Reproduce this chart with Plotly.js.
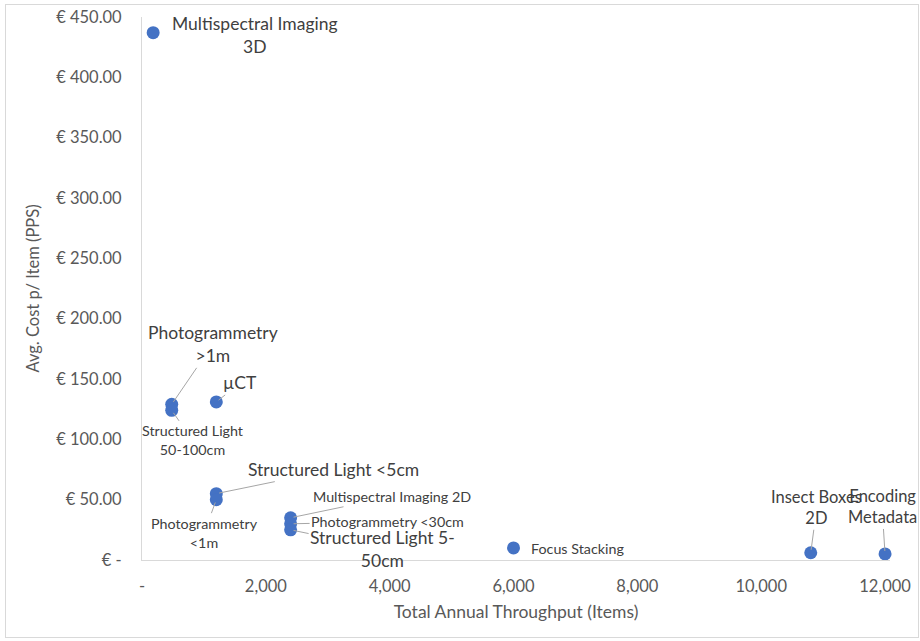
<!DOCTYPE html>
<html>
<head>
<meta charset="utf-8">
<script src="https://cdn.plot.ly/plotly-3.0.1.min.js"></script>
<style>
  html, body { margin: 0; padding: 0; background: #fff; }
  #chart { width: 920px; height: 641px; }
  #frame { position: absolute; left: 5px; top: 4px; width: 912px; height: 632px; border: 1px solid #d9d9d9; pointer-events: none; }
</style>
</head>
<body>
<div id="chart"></div>
<div id="frame"></div>
<script>
// ---- data ----
const labels = [
  "Multispectral Imaging<br>3D",
  "Photogrammetry<br>>1m",
  "Structured Light<br>50-100cm",
  "µCT",
  "Structured Light <5cm",
  "Photogrammetry<br><1m",
  "Multispectral Imaging 2D",
  "Photogrammetry <30cm",
  "Structured Light 5-<br>50cm",
  "Focus Stacking",
  "Insect Boxes<br>2D",
  "Encoding<br>Metadata"
];
const throughput = [180, 480, 480, 1200, 1200, 1200, 2400, 2400, 2400, 6000, 10800, 12000];
const cost = [437, 129, 124, 131, 55, 50, 35, 30, 25, 10, 6, 5];

const xTickVals = [0, 2000, 4000, 6000, 8000, 10000, 12000];
const xTickText = ["-", "2,000", "4,000", "6,000", "8,000", "10,000", "12,000"];
const yTickVals = [0, 50, 100, 150, 200, 250, 300, 350, 400, 450];
const yTickText = ["€ -", "€ 50.00", "€ 100.00", "€ 150.00", "€ 200.00", "€ 250.00", "€ 300.00", "€ 350.00", "€ 400.00", "€ 450.00"];

// ---- label styling (pixel offsets, font sizes) ----
const labelStyle = [
  {ax: 102, ay: 2, arrow: false, size: 17.5},
  {ax: 41, ay: -60, arrow: true, size: 17.5},
  {ax: 21, ay: 30, arrow: true, size: 14.3},
  {ax: 24, ay: -19, arrow: true, size: 17.5},
  {ax: 117, ay: -24, arrow: true, size: 17.5},
  {ax: -12, ay: 33, arrow: true, size: 14.3},
  {ax: 101, ay: -21, arrow: true, size: 14.3},
  {ax: 97, ay: -2, arrow: true, size: 14.3},
  {ax: 92, ay: 19, arrow: true, size: 17.5},
  {ax: 64, ay: 1, arrow: false, size: 14.3},
  {ax: 6, ay: -45, arrow: true, size: 16.5},
  {ax: -3, ay: -47, arrow: true, size: 16.5}
];

const FONT = "Lato, 'Open Sans', sans-serif";
const annotations = labels.map((t, i) => {
  const s = labelStyle[i];
  const a = {
    x: throughput[i], y: cost[i], xref: 'x', yref: 'y',
    text: t, align: 'center',
    font: {family: FONT, size: s.size, color: '#404040'}
  };
  if (s.arrow) {
    Object.assign(a, {showarrow: true, ax: s.ax, ay: s.ay, arrowhead: 0, arrowwidth: 1,
      arrowcolor: '#a6a6a6', standoff: 3});
  } else {
    Object.assign(a, {showarrow: false, xshift: s.ax, yshift: -s.ay});
  }
  return a;
});

const trace = {
  type: 'scatter', mode: 'markers',
  x: throughput, y: cost,
  marker: {color: '#4472C4', size: 13},
  cliponaxis: false,
  hoverinfo: 'x+y'
};

const layout = {
  width: 920, height: 641,
  margin: {l: 142, r: 30, t: 17, b: 81},
  paper_bgcolor: '#ffffff', plot_bgcolor: '#ffffff',
  showlegend: false,
  font: {family: FONT, color: '#595959'},
  xaxis: {
    range: [0, 12080], showgrid: false, zeroline: false,
    showline: true, linecolor: '#d9d9d9', linewidth: 1,
    tickvals: xTickVals, ticktext: xTickText, ticks: '',
    ticklabelstandoff: 11,
    tickfont: {family: FONT, size: 16.5, color: '#595959'},
    title: {text: 'Total Annual Throughput (Items)', font: {family: FONT, size: 17.5, color: '#595959'}, standoff: 10}
  },
  yaxis: {
    range: [0, 450], showgrid: false, zeroline: false,
    showline: true, linecolor: '#d9d9d9', linewidth: 1,
    tickvals: yTickVals, ticktext: yTickText, ticks: '',
    ticklabelstandoff: 16,
    tickfont: {family: FONT, size: 16.5, color: '#595959'},
    title: {text: 'Avg. Cost p/ Item (PPS)', font: {family: FONT, size: 16.5, color: '#595959'}, standoff: 12}
  },
  annotations: annotations
};

Plotly.newPlot('chart', [trace], layout, {displayModeBar: false, staticPlot: true});
</script>
</body>
</html>
